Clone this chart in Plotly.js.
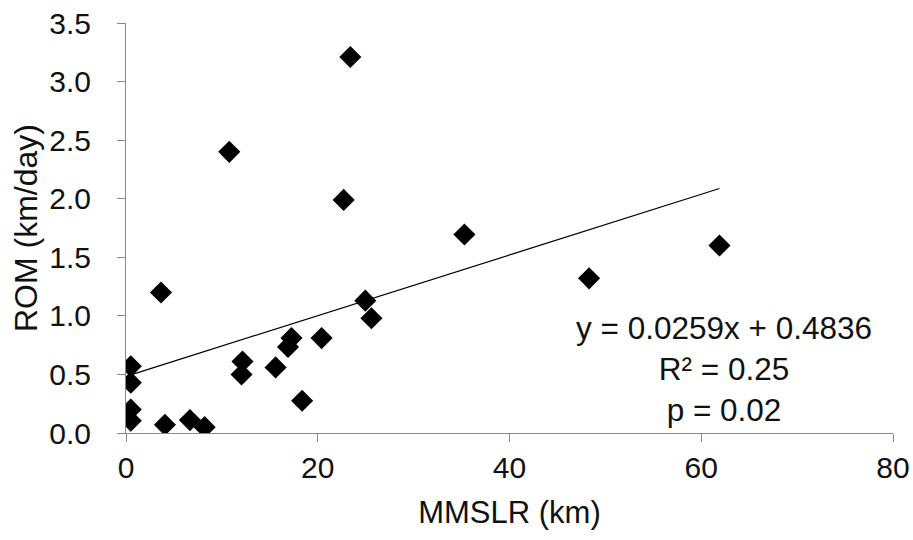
<!DOCTYPE html>
<html>
<head>
<meta charset="utf-8">
<script src="https://cdn.plot.ly/plotly-3.0.1.min.js"></script>
<style>html,body{margin:0;padding:0;background:#fff;}#chart{width:913px;height:540px;}</style>
</head>
<body>
<div id="chart"></div>
<script>
// MMSLR (km) vs ROM (km/day)
var mmslr = [0.5, 0.5, 0.5, 0.5, 3.65, 4.06, 6.67, 8.2, 10.77, 12.05, 12.15, 15.6, 16.9, 17.26, 18.37, 20.4, 22.7, 23.4, 24.96, 25.6, 35.3, 48.3, 61.9];
var rom   = [0.57, 0.43, 0.20, 0.105, 1.20, 0.07, 0.11, 0.05, 2.40, 0.50, 0.61, 0.56, 0.735, 0.81, 0.275, 0.81, 1.99, 3.21, 1.13, 0.98, 1.695, 1.32, 1.60];
var slope = 0.0259;
var intercept = 0.4836;
var xTicks = [0, 20, 40, 60, 80];
var yTicks = [0.0, 0.5, 1.0, 1.5, 2.0, 2.5, 3.0, 3.5];
var fitText = ['y = 0.0259x + 0.4836', 'R² = 0.25', 'p = 0.02'];

var xmin = Math.min.apply(null, mmslr), xmax = Math.max.apply(null, mmslr);
var lineX = [xmin, xmax];
var lineY = lineX.map(function(v){ return slope * v + intercept; });

var font = 'Liberation Sans, Arial, sans-serif';
var traces = [
  {x: lineX, y: lineY, mode: 'lines', line: {color: '#000', width: 1.2}, hoverinfo: 'skip', showlegend: false},
  {x: mmslr, y: rom, mode: 'markers', marker: {symbol: 'diamond', size: 17, color: '#000'}, showlegend: false}
];
var layout = {
  width: 913, height: 540,
  margin: {l: 126, r: 20, t: 23, b: 107},
  paper_bgcolor: '#fff', plot_bgcolor: '#fff',
  font: {family: font, color: '#111', size: 30},
  showlegend: false,
  xaxis: {
    range: [0, 80], tickvals: xTicks, ticktext: xTicks.map(String),
    showgrid: false, zeroline: false, showline: true, linecolor: '#888', linewidth: 1,
    ticks: 'outside', ticklen: 8, tickcolor: '#888', tickwidth: 1,
    tickfont: {size: 30, family: font, color: '#111'},
    title: {text: 'MMSLR (km)', font: {size: 31, family: font, color: '#111'}, standoff: 18}
  },
  yaxis: {
    range: [0, 3.5], tickvals: yTicks, ticktext: yTicks.map(function(v){return v.toFixed(1);}),
    showgrid: false, zeroline: false, showline: true, linecolor: '#888', linewidth: 1,
    ticks: 'outside', ticklen: 8, tickcolor: '#888', tickwidth: 1, ticklabelstandoff: 20,
    tickfont: {size: 30, family: font, color: '#111'},
    title: {text: 'ROM (km/day)', font: {size: 32, family: font, color: '#111'}, standoff: 2}
  },
  annotations: [{
    xref: 'x', yref: 'y', x: 62.4, y: 0.55, xanchor: 'center', yanchor: 'middle',
    text: fitText.join('<br>'), showarrow: false, align: 'center',
    font: {size: 31.5, family: font, color: '#111'}
  }]
};
Plotly.newPlot('chart', traces, layout, {displayModeBar: false, staticPlot: true});
</script>
</body>
</html>
